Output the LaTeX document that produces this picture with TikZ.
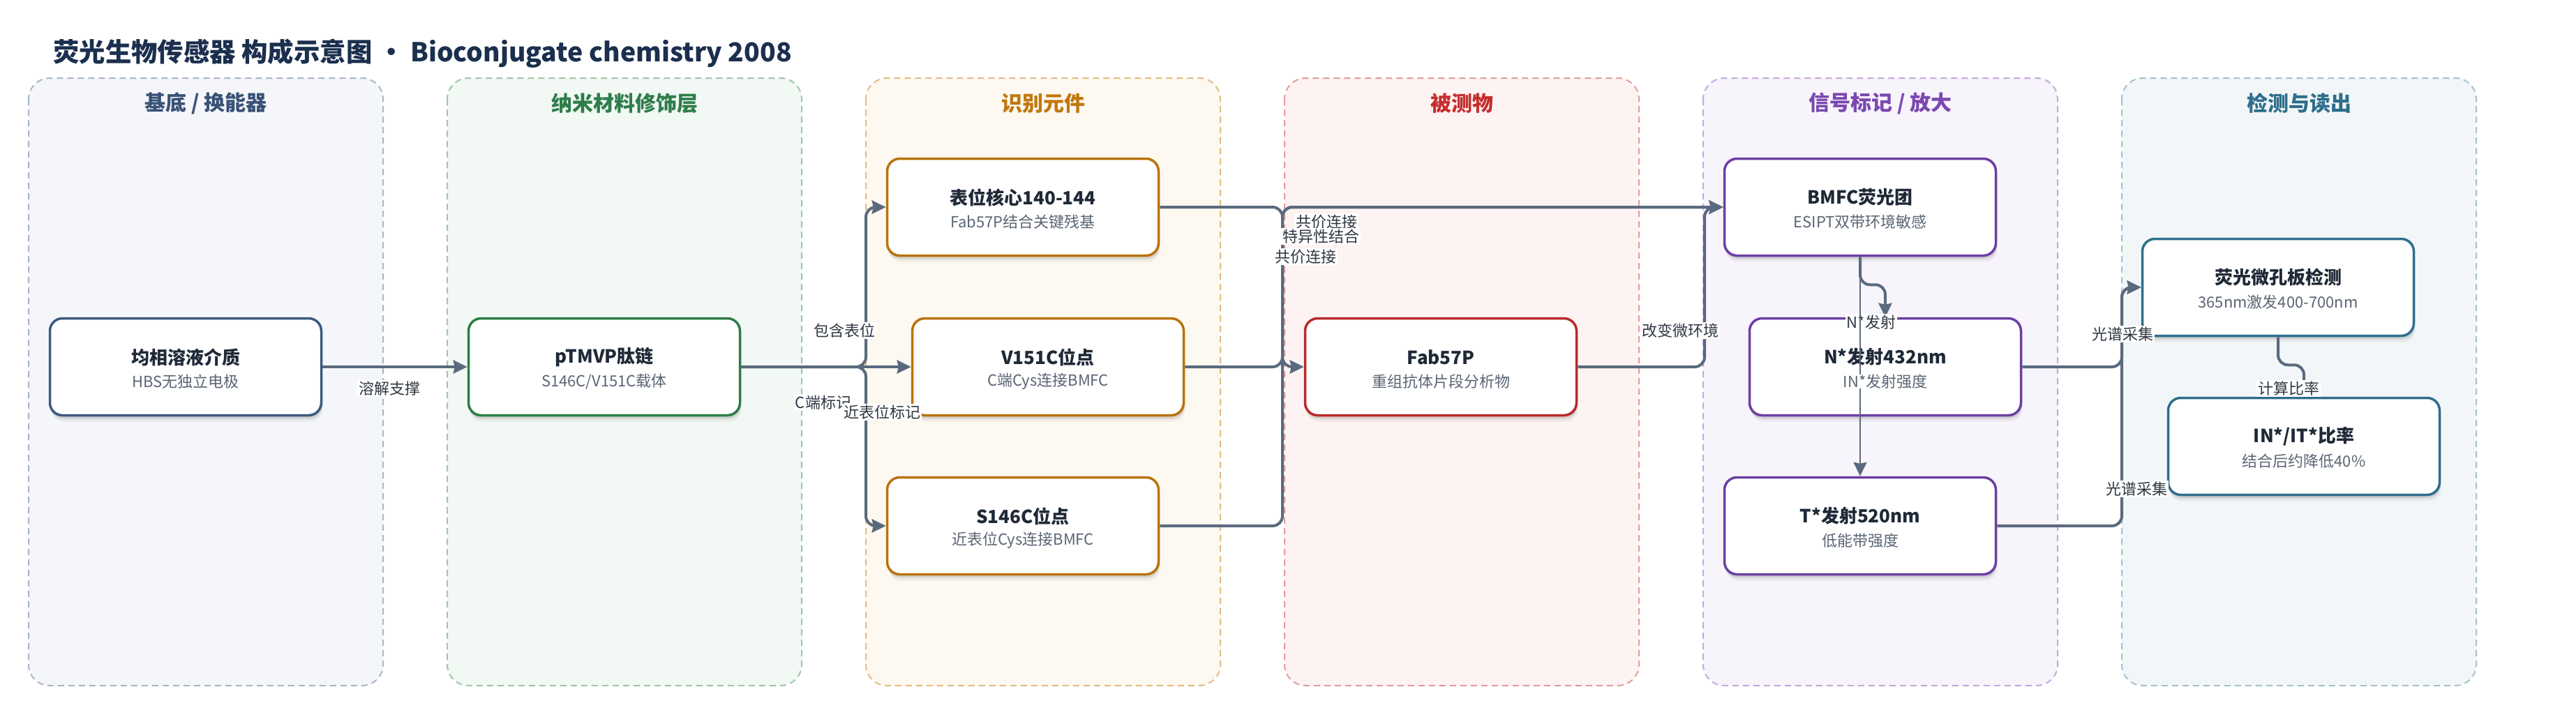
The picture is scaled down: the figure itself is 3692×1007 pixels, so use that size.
\documentclass[tikz,border=0pt]{standalone}
\usepackage{fontspec}
\setmainfont{Noto Sans CJK SC}
\usetikzlibrary{arrows.meta,shadows,calc}

\definecolor{titlec}{HTML}{1B2F4E}
\definecolor{txt}{HTML}{1F2937}
\definecolor{subtxt}{HTML}{5B6574}
\definecolor{edgec}{HTML}{5A6A7E}
\definecolor{lblc}{HTML}{2F3742}
% lanes
\definecolor{fA}{HTML}{F4F6FA}\definecolor{bA}{HTML}{A9B6C9}\definecolor{hA}{HTML}{3A5277}\definecolor{nA}{HTML}{3D5A80}
\definecolor{fB}{HTML}{F2F8F4}\definecolor{bB}{HTML}{9EC7AC}\definecolor{hB}{HTML}{2E7D4A}\definecolor{nB}{HTML}{2E7D46}
\definecolor{fC}{HTML}{FDF8F0}\definecolor{bC}{HTML}{E3BC86}\definecolor{hC}{HTML}{C0780E}\definecolor{nC}{HTML}{B9730E}
\definecolor{fD}{HTML}{FDF3F2}\definecolor{bD}{HTML}{E29D9B}\definecolor{hD}{HTML}{C62E2E}\definecolor{nD}{HTML}{B72A2A}
\definecolor{fE}{HTML}{F7F4FB}\definecolor{bE}{HTML}{C2ABDD}\definecolor{hE}{HTML}{7A48B0}\definecolor{nE}{HTML}{6C3FA2}
\definecolor{fF}{HTML}{F3F6F8}\definecolor{bF}{HTML}{A3C2CF}\definecolor{hF}{HTML}{2D6E8C}\definecolor{nF}{HTML}{2F6E8C}

\begin{document}
\begin{tikzpicture}[x=1pt,y=-1pt,
  lane/.style={line width=2pt, dash pattern=on 9pt off 6pt, rounded corners=30pt},
  hdr/.style={font=\fontsize{30}{36}\selectfont\bfseries, inner sep=0pt},
  softshadow/.style={drop shadow={shadow xshift=1pt,shadow yshift=-5pt,opacity=0.10,fill=black},
                     drop shadow={shadow xshift=2pt,shadow yshift=-9pt,opacity=0.05,fill=black}},
  nbox/.style={draw, fill=white, line width=3.5pt, rounded corners=18pt, minimum width=389pt, minimum height=139pt, inner sep=0pt, softshadow},
  ttl/.style={font=\fontsize{26}{30}\selectfont\bfseries, text=txt, inner sep=0pt},
  subtext/.style={font=\fontsize{22}{26}\selectfont, text=subtxt, inner sep=0pt},
  conn/.style={draw=edgec, line width=4pt, rounded corners=14pt, -{Stealth[length=20pt,width=19pt,inset=2pt]}},
  thinconn/.style={draw=edgec, line width=2pt, -{Stealth[length=20pt,width=19pt,inset=2pt]}},
  lbl/.style={fill=white, inner sep=2pt, font=\fontsize{22}{26}\selectfont, text=lblc}
]
\useasboundingbox (0,0) rectangle (3692,1007);
\fill[white] (0,0) rectangle (3692,1007);

% title
\node[anchor=west, inner sep=0pt, text=titlec, font=\fontsize{37.4}{45}\selectfont\bfseries] (title) at (76,77)
  {荧光生物传感器 构成示意图 · Bioconjugate chemistry 2008};

% lanes
\draw[lane, fill=fA, draw=bA] (41,112) rectangle (549,983);
\draw[lane, fill=fB, draw=bB] (641,112) rectangle (1149,983);
\draw[lane, fill=fC, draw=bC] (1241,112) rectangle (1749,983);
\draw[lane, fill=fD, draw=bD] (1841,112) rectangle (2349,983);
\draw[lane, fill=fE, draw=bE] (2441,112) rectangle (2949,983);
\draw[lane, fill=fF, draw=bF] (3041,112) rectangle (3549,983);

\node[hdr, text=hA] (h1) at (295,148) {基底 / 换能器};
\node[hdr, text=hB] (h2) at (895,148) {纳米材料修饰层};
\node[hdr, text=hC] (h3) at (1495,148) {识别元件};
\node[hdr, text=hD] (h4) at (2095,148) {被测物};
\node[hdr, text=hE] (h5) at (2695,148) {信号标记 / 放大};
\node[hdr, text=hF] (h6) at (3295,148) {检测与读出};

% boxes
\node[nbox, draw=nA] (A)  at (266,526)  {};
\node[nbox, draw=nB] (B)  at (866,526)  {};
\node[nbox, draw=nC] (C1) at (1466,297) {};
\node[nbox, draw=nC] (C2) at (1502,526) {};
\node[nbox, draw=nC] (C3) at (1466,754) {};
\node[nbox, draw=nD] (D)  at (2065,526) {};
\node[nbox, draw=nE] (E1) at (2666,297) {};
\node[nbox, draw=nE] (E2) at (2702,526) {};
\node[nbox, draw=nE] (E3) at (2666,754) {};
\node[nbox, draw=nF] (F1) at (3265,412) {};
\node[nbox, draw=nF] (F2) at (3302,640) {};

% box texts
\node[ttl] (At)  at ($(A)+(0,-14)$)  {均相溶液介质};
\node[subtext] (As)  at ($(A)+(0,21)$)   {HBS无独立电极};
\node[ttl] (Bt)  at ($(B)+(0,-14)$)  {pTMVP肽链};
\node[subtext] (Bs)  at ($(B)+(0,21)$)   {S146C/V151C载体};
\node[ttl] (C1t) at ($(C1)+(0,-14)$) {表位核心140-144};
\node[subtext] (C1s) at ($(C1)+(0,21)$)  {Fab57P结合关键残基};
\node[ttl] (C2t) at ($(C2)+(0,-14)$) {V151C位点};
\node[subtext] (C2s) at ($(C2)+(0,21)$)  {C端Cys连接BMFC};
\node[ttl] (C3t) at ($(C3)+(0,-14)$) {S146C位点};
\node[subtext] (C3s) at ($(C3)+(0,21)$)  {近表位Cys连接BMFC};
\node[ttl] (Dt)  at ($(D)+(0,-14)$)  {Fab57P};
\node[subtext] (Ds)  at ($(D)+(0,21)$)   {重组抗体片段分析物};
\node[ttl] (E1t) at ($(E1)+(0,-14)$) {BMFC荧光团};
\node[subtext] (E1s) at ($(E1)+(0,21)$)  {ESIPT双带环境敏感};
\node[ttl] (E2t) at ($(E2)+(0,-14)$) {N*发射432nm};
\node[ttl] (E3t) at ($(E3)+(0,-14)$) {T*发射520nm};
\node[subtext] (E3s) at ($(E3)+(0,21)$)  {低能带强度};
\node[ttl] (F1t) at ($(F1)+(0,-14)$) {荧光微孔板检测};
\node[subtext] (F1s) at ($(F1)+(0,21)$)  {365nm激发400-700nm};
\node[ttl] (F2t) at ($(F2)+(0,-14)$) {IN*/IT*比率};
\node[subtext] (F2s) at ($(F2)+(0,21)$)  {结合后约降低40\%};

% channel coordinates
\coordinate (k0) at (1241,0);
\coordinate (k1) at (1838,0);
\coordinate (k2) at (2443,0);
\coordinate (k3) at (3041,0);

% connectors
\draw[conn] (A.east) -- (B.west);
\draw[conn] (B.east) -| (k0 |- C1.west) -- (C1.west);
\draw[conn] (B.east) -- (C2.west);
\draw[conn] (B.east) -| (k0 |- C3.west) -- (C3.west);
\draw[conn] (C1.east) -| (k1 |- D.west) -- (D.west);
\draw[conn] (C2.east) -| (k1 |- E1.west) -- (E1.west);
\draw[conn] (C3.east) -| (k1 |- E1.west) -- (E1.west);
\draw[conn] (D.east) -| (k2 |- E1.west) -- (E1.west);
\draw[conn] (E1.south) -- ++(0,40) -| (E2.north);
\draw[conn] (E2.east) -| (k3 |- F1.west) -- (F1.west);
\draw[conn] (E3.east) -| (k3 |- F1.west) -- (F1.west);
\draw[conn] (F1.south) -- ++(0,40) -| (F2.north);

% labels
\node[lbl] (l1)  at (558,557)  {溶解支撑};
\node[lbl] (l2)  at (1210,474) {包含表位};
\node[lbl] (l3)  at (1180,577) {C端标记};
\node[lbl] (l4)  at (1264,591) {近表位标记};
\node[lbl] (l5)  at (1901,318) {共价连接};
\node[lbl] (l6)  at (1893,339) {特异性结合};
\node[lbl] (l7)  at (1871,368) {共价连接};
\node[lbl] (l8)  at (2408,474) {改变微环境};
\node[lbl] (l9)  at (2682,462) {N*发射};
\node[lbl] (l10) at (3042,479) {光谱采集};
\node[lbl] (l11) at (3062,701) {光谱采集};
\node[lbl] (l12) at (3280,557) {计算比率};

% thin connector through E2
\draw[thinconn] (E1.south) -- (E3.north);
\node[subtext, fill=white] (E2s) at ($(E2)+(0,21)$) {IN*发射强度};
\end{tikzpicture}
\end{document}
